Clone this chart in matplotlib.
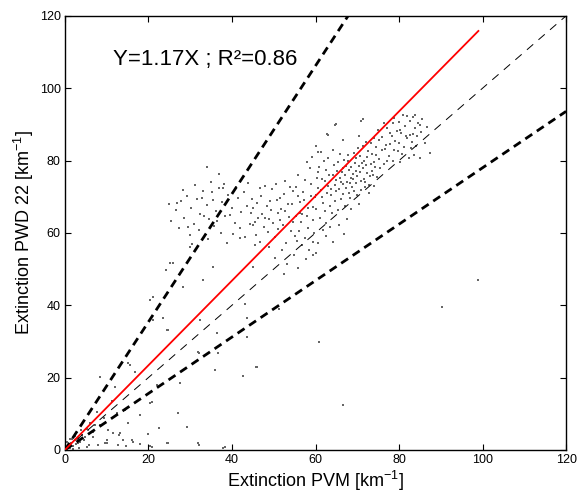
import matplotlib
matplotlib.use("Agg")
import matplotlib.pyplot as plt
import numpy as np

plt.rcParams['font.family'] = ['Liberation Sans', 'DejaVu Sans']
plt.rcParams['mathtext.fontset'] = 'custom'
plt.rcParams['mathtext.rm'] = 'Liberation Sans'
plt.rcParams['mathtext.it'] = 'Liberation Sans'
plt.rcParams['lines.scale_dashes'] = False

# ---- data (PVM extinction, PWD22 extinction) ----
core_x = [56.2,57.1,58.3,59.0,59.8,60.4,61.2,61.9,62.5,63.1,63.8,64.4,65.0,65.7,66.3,66.9,67.5,68.1,68.8,69.4,70.0,70.7,71.3,71.9,72.6,73.2,73.8,74.5,75.1,
          55.4,56.8,57.6,58.9,60.1,60.9,61.6,62.8,63.5,64.1,64.9,65.4,66.0,66.7,67.2,67.9,68.5,69.1,69.7,70.4,71.0,71.6,72.3,72.9,73.5,74.2,74.8,
          55.9,57.3,58.6,59.4,60.7,62.0,62.3,63.3,64.7,65.2,66.5,67.7,68.3,69.0,69.9,70.2,71.5,72.0,72.8,73.6,74.0,75.5,
          56.5,58.0,59.5,61.0,62.6,63.9,65.5,67.0,68.6,70.3,57.9,59.2,60.6,61.4,63.0,64.2,65.8,66.2,67.4,68.9,69.6,70.9,71.8,73.0,
          64.6,65.9,67.1,68.2,69.3,70.6,62.2,63.6,61.5,60.2,66.6,67.8,68.4,69.8,71.2,72.4,73.9,74.6,75.8,76.3]
core_y = [68.4,71.2,66.9,73.5,69.8,75.1,71.9,68.2,77.3,73.0,70.4,78.9,74.6,72.1,76.8,80.2,74.0,77.5,72.6,79.4,75.7,81.3,77.9,74.2,82.5,79.0,76.1,83.7,80.4,
          72.8,65.3,74.6,70.1,66.5,78.2,74.8,70.9,67.4,75.9,71.5,79.6,69.3,73.4,78.6,71.0,75.2,82.1,73.7,78.4,71.8,80.0,76.6,73.3,81.9,78.2,75.4,
          75.9,69.0,77.8,67.1,72.4,79.9,66.0,76.1,68.8,77.0,70.7,81.6,69.6,76.3,70.5,83.4,75.0,78.9,70.9,77.1,73.0,78.0,
          62.9,64.8,63.5,64.1,62.7,65.6,66.2,67.3,66.7,68.0,79.5,81.0,76.9,82.3,80.8,83.0,81.9,74.1,72.3,74.9,77.0,74.4,72.8,75.6,
          73.1,75.3,76.0,73.9,71.5,76.8,74.3,72.0,70.0,70.6,77.9,79.8,78.1,80.6,79.3,81.0,79.6,81.5,82.8,79.1]

upper_x = [76.9,77.5,78.2,78.8,79.5,80.1,80.8,81.4,82.0,82.7,83.3,84.0,84.6,85.3,76.0,77.2,78.5,79.1,79.9,80.5,81.1,81.9,82.4,83.0,83.8,84.4,85.6,86.2,
           75.3,76.6,77.9,78.9,80.3,81.6,82.9,74.1,73.4,72.2,71.4,70.5,79.7,77.0,86.8,87.4,85.0,83.6,76.4,74.9,
           63.0,65.0,71.0,66.6,60.0,64.7,71.4,62.8,60.6,83.8,81.0,85.0,82.6,83.4,78.6,80.3,77.8]
upper_y = [84.3,81.2,86.7,83.0,88.1,84.9,81.9,89.5,86.2,91.0,87.4,84.1,90.3,88.0,86.5,88.9,80.0,85.5,90.6,87.6,83.7,92.2,80.8,85.0,89.0,86.7,91.6,84.8,
           85.8,83.2,84.6,91.9,79.6,86.8,83.4,86.3,84.9,85.2,83.9,86.8,82.6,79.8,89.4,82.1,80.7,81.6,90.4,88.5,
           87.0,90.0,91.0,85.7,84.0,89.9,91.5,87.4,82.4,92.6,92.6,89.9,87.1,92.0,90.3,88.5,87.6]

mid_x = [44.2,45.0,45.7,46.3,47.0,47.6,48.3,48.9,49.6,50.2,50.9,51.5,52.2,52.8,53.4,54.1,54.7,55.3,44.8,45.4,46.1,46.8,47.3,48.0,48.6,49.2,49.9,50.5,
         51.1,51.8,52.5,53.0,53.7,54.4,55.0,55.7,44.5,46.6,48.8,50.7,52.0,53.9,55.5,47.8,49.4,51.4,52.7,54.5,56.0,57.4,58.1,59.7,56.7,58.5,
         54.9,53.2,57.8,60.5,61.7,60.0,62.4,63.4,64.3,65.6,66.8,67.6,55.8,52.4,50.4,56.3,59.4]
mid_y = [62.5,66.8,59.4,64.1,70.2,61.7,67.5,63.9,72.0,58.8,65.4,69.7,62.2,74.3,67.9,60.6,71.5,64.8,69.5,63.0,68.3,57.6,65.2,72.9,60.3,68.9,62.8,73.4,
         61.0,66.6,70.8,57.2,64.3,68.0,59.1,70.3,65.6,72.4,56.1,69.0,55.4,72.7,57.8,64.0,66.2,63.6,66.1,63.0,60.4,58.6,61.4,59.9,56.6,55.3,
         53.8,51.5,52.9,57.1,60.8,54.5,59.0,61.7,57.5,62.1,59.6,63.9,50.2,48.7,53.0,65.5,57.5]

left_x = [26.5,27.8,28.6,29.3,30.1,30.9,31.6,32.4,33.1,33.9,34.6,35.4,36.1,36.9,37.6,38.4,39.1,39.9,40.6,41.4,42.1,42.9,43.6,
          27.2,29.9,32.0,34.2,35.8,37.3,38.9,40.3,41.8,43.2,31.2,35.0,38.0,41.0,28.3,36.5,39.5,33.4,30.5,25.5,24.8,43.9,37.0,34.0,
          26.8,29.5,32.8,35.2,37.8,41.9,45.5,45.0]
left_y = [66.2,68.9,64.0,70.1,66.8,62.5,69.4,65.3,71.6,67.7,63.9,69.0,66.1,72.3,68.4,64.6,70.5,67.0,62.8,69.6,65.7,71.2,67.3,
          61.3,59.5,60.8,58.4,61.9,60.1,57.3,59.8,61.4,58.9,73.2,74.1,73.6,72.8,71.8,63.2,65.0,64.7,57.0,63.4,68.0,73.9,76.3,78.1,
          68.2,61.7,69.7,71.4,72.4,58.6,56.7,62.2]

sparse_x = [98.9,90.3,60.8,45.7,42.7,66.6,59.4,45.0,43.1,43.6,51.3,
            21.2,24.2,28.3,25.9,23.5,24.7,30.0,33.0,36.4,36.7,32.0,
            25.1,20.4,21.1,24.4,15.6,8.4,12.0,20.4,27.1,29.2,36.0,46.0,35.4,32.3,27.5,22.0,18.0,43.6,
            16.8,15.1,14.4,20.8,31.9]
sparse_y = [47.0,39.5,29.9,23.0,20.4,12.4,53.9,50.6,40.4,36.5,39.0,
            42.3,49.8,45.0,51.7,36.5,33.2,56.0,47.0,32.3,26.8,26.8,
            51.7,41.5,35.9,33.2,23.5,20.2,17.4,13.0,10.2,6.4,22.1,23.0,50.6,35.9,18.5,18.0,9.7,31.2,
            21.6,24.1,11.1,13.3,27.1]

low_x = [0.4,0.8,1.1,1.5,1.9,2.3,2.7,3.2,3.6,4.1,0.6,1.3,2.0,4.6,5.2,6.1,3.9,6.8,8.5,9.4,7.6,11.2,10.1,12.8,14.5,17.9,20.3,24.6,32.0,38.3,19.8,22.5,
         7.9,13.9,11.5,4.8,15.1,10.3,12.5,16.3,9.6,3.1,5.5,7.2,24.4,31.9,16.0,13.2,10.0,6.7,5.3,5.8,12.9,14.7,20.9,37.8,2.4,1.7,0.9,3.4]
low_y = [0.6,1.2,0.5,1.8,1.1,2.6,1.5,3.4,2.1,4.0,2.2,3.0,0.3,2.7,5.8,7.4,5.6,4.9,6.8,8.9,10.4,13.5,2.6,1.3,1.0,1.6,1.2,1.8,1.4,0.9,4.3,6.1,
         1.4,2.8,4.7,3.6,7.5,5.5,10.2,2.2,1.9,1.9,5.5,6.9,1.9,1.9,2.8,4.7,1.9,3.6,0.8,1.4,4.0,1.2,0.8,0.6,3.9,2.9,1.6,0.4]

fit_slope = 1.17
fit_xmax = 99.0
upper_slope = 1.77
lower_slope = 0.78
annotation = "Y=1.17X ; R\u00b2=0.86"
ticks = [0, 20, 40, 60, 80, 100, 120]

# ---- figure ----
fig = plt.figure(figsize=(5.8, 4.96), dpi=100)
ax = fig.add_axes([0.112, 0.093, 0.864, 0.875])

all_x = np.concatenate([core_x, upper_x, mid_x, left_x, sparse_x, low_x])
all_y = np.concatenate([core_y, upper_y, mid_y, left_y, sparse_y, low_y])
ax.scatter(all_x, all_y, s=0.9, marker='s', c='0.4', linewidths=0, zorder=2)

xr = np.array([0, 120.0])
ax.plot(xr, xr, color='k', lw=0.7, dashes=(6, 5), zorder=3)
ax.plot([0, 120 / upper_slope], [0, 120], color='k', lw=2.0, dashes=(6, 4), zorder=3)
ax.plot(xr, lower_slope * xr, color='k', lw=2.0, dashes=(6, 4), zorder=3)
ax.plot([0, fit_xmax], [0, fit_slope * fit_xmax], color='red', lw=1.3, zorder=4)

ax.text(11.6, 107.8, annotation, fontsize=16, va='center', ha='left')

ax.set_xlim(0, 120)
ax.set_ylim(0, 120)
ax.set_xticks(ticks)
ax.set_yticks(ticks)
ax.tick_params(direction='in', top=True, right=True, length=4, width=0.8, labelsize=9, pad=3)
for s in ax.spines.values():
    s.set_linewidth(1.0)
ax.set_xlabel(r'Extinction PVM [km$^{-1}$]', fontsize=13, labelpad=2)
ax.set_ylabel(r'Extinction PWD 22 [km$^{-1}$]', fontsize=13, labelpad=3)

fig.savefig('out.png', dpi=100)
